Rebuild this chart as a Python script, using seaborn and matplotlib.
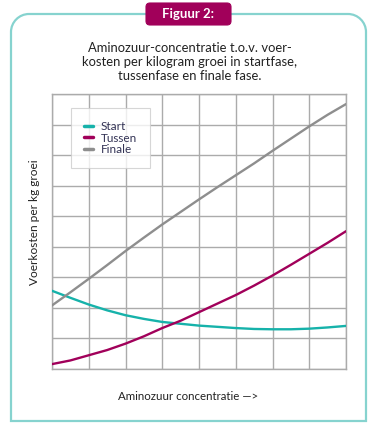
import numpy as np
import pandas as pd
import matplotlib
matplotlib.use("Agg")
import matplotlib.pyplot as plt
import seaborn as sns
from matplotlib.path import Path
from matplotlib.patches import PathPatch, FancyBboxPatch
from matplotlib.transforms import Affine2D

# ---- data ----
concentratie = [0, 0.5, 1, 1.5, 2, 2.5, 3, 3.5, 4, 4.5, 5, 5.5, 6, 6.5, 7, 7.5, 8]
start = [2.56, 2.33, 2.11, 1.92, 1.76, 1.64, 1.54, 1.48, 1.42, 1.38, 1.34, 1.31,
         1.30, 1.30, 1.32, 1.36, 1.41]
tussen = [0.16, 0.28, 0.45, 0.62, 0.83, 1.07, 1.34, 1.58, 1.86, 2.14, 2.42, 2.73,
          3.06, 3.41, 3.77, 4.13, 4.51]
finale = [2.08, 2.51, 2.95, 3.40, 3.86, 4.30, 4.73, 5.14, 5.55, 5.95, 6.34, 6.73,
          7.14, 7.54, 7.94, 8.32, 8.67]
series_names = ["Start", "Tussen", "Finale"]
series_colors = ["#16b2aa", "#a1005a", "#8e8e8e"]

n = len(concentratie)
df = pd.DataFrame({
    "x": concentratie * 3,
    "y": start + tussen + finale,
    "fase": [series_names[0]] * n + [series_names[1]] * n + [series_names[2]] * n,
})

sns.set_theme(style="white")
plt.rcParams["font.family"] = ["Lato", "DejaVu Sans"]

W, H = 382, 429
fig = plt.figure(figsize=(W / 100, H / 100), dpi=100)

# pixel -> figure transform (y measured from top)
px = Affine2D().scale(1 / W, -1 / H).translate(0, 1) + fig.transFigure

# card with rounded top corners
L, R, T, B, r = 11, 366, 14, 421, 18
k = 0.55
verts = [(L, B), (L, T + r), (L, T + r - k * r), (L + r - k * r, T), (L + r, T),
         (R - r, T), (R - r + k * r, T), (R, T + r - k * r), (R, T + r), (R, B), (L, B)]
codes = [Path.MOVETO, Path.LINETO, Path.CURVE4, Path.CURVE4, Path.CURVE4,
         Path.LINETO, Path.CURVE4, Path.CURVE4, Path.CURVE4, Path.LINETO, Path.CLOSEPOLY]
card = PathPatch(Path(verts, codes), transform=px, facecolor="white",
                 edgecolor="#86d3cf", linewidth=1.6, zorder=-5)
fig.patches.append(card)

# badge
badge = FancyBboxPatch((146, 3), 85, 22, boxstyle="round,pad=0,rounding_size=4",
                       transform=px, facecolor="#a1005a", edgecolor="#a1005a",
                       linewidth=0.8, zorder=-4)
fig.patches.append(badge)
fig.text(188.5 / W, 1 - 14.5 / H, "Figuur 2:", color="white", fontsize=9.5,
         fontweight="bold", ha="center", va="center", zorder=2)

# title
fig.text(190 / W, 1 - 62 / H,
         "Aminozuur-concentratie t.o.v. voer-\nkosten per kilogram groei in startfase,\ntussenfase en finale fase.",
         ha="center", va="center", fontsize=9.4, color="#222222", linespacing=1.2)

ax = fig.add_axes([52 / W, 1 - 369 / H, (346 - 52) / W, (369 - 94) / H], zorder=5)
ax.set_facecolor("white")
sns.lineplot(data=df, x="x", y="y", hue="fase", palette=series_colors,
             linewidth=1.7, ax=ax, zorder=3)

ax.set_xlim(0, 8)
ax.set_ylim(0, 9)
ax.set_xticks(range(0, 9))
ax.set_yticks(range(0, 10))
ax.tick_params(length=0, labelbottom=False, labelleft=False)
ax.grid(True, color="#ababab", linewidth=1.0)
for s in ax.spines.values():
    s.set_color("#ababab")
    s.set_linewidth(1.0)
ax.set_xlabel("")
ax.set_ylabel("")

leg = ax.legend(loc="upper left", bbox_to_anchor=((71 - 52) / 294, (369 - 108) / 275),
                borderaxespad=0, fontsize=8.5, frameon=True, fancybox=False,
                handlelength=0.8, handletextpad=0.6, labelspacing=0.05,
                borderpad=1.1, title=None)
leg.get_frame().set_edgecolor("#cccccc")
leg.get_frame().set_linewidth(0.8)
for line in leg.get_lines():
    line.set_linewidth(2.5)
for t in leg.get_texts():
    t.set_color("#333355")

fig.text(35 / W, 1 - 222 / H, "Voerkosten per kg groei", rotation=90,
         ha="center", va="center", fontsize=8.6, color="#222222")
fig.text(188 / W, 1 - 397 / H, "Aminozuur concentratie —>",
         ha="center", va="center", fontsize=8.3, color="#222222")

fig.savefig("out.png", dpi=100, facecolor="white")
